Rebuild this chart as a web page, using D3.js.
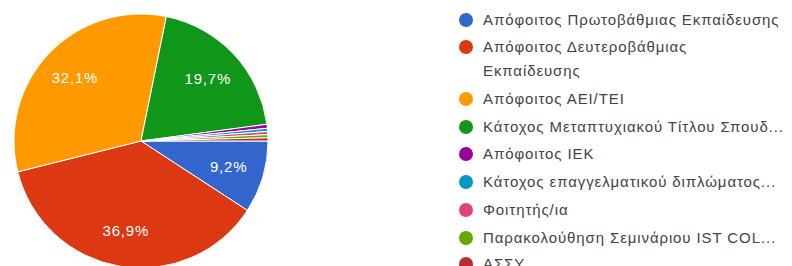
<!DOCTYPE html>
<html>
<head>
<meta charset="utf-8">
<script src="https://cdn.jsdelivr.net/npm/d3@7"></script>
<style>
  body { margin: 0; background: #fff; }
  svg { display: block; font-family: "Liberation Sans", Arial, sans-serif; }
</style>
</head>
<body>
<script>
// data
var categories = [
  "Απόφοιτος Πρωτοβάθμιας Εκπαίδευσης",
  "Απόφοιτος Δευτεροβάθμιας Εκπαίδευσης",
  "Απόφοιτος ΑΕΙ/ΤΕΙ",
  "Κάτοχος Μεταπτυχιακού Τίτλου Σπουδών",
  "Απόφοιτος ΙΕΚ",
  "Κάτοχος επαγγελματικού διπλώματος",
  "Φοιτητής/ια",
  "Παρακολούθηση Σεμινάριου IST COLLEGE",
  "ΑΣΣΥ"
];
var values = [9.2, 36.9, 32.1, 19.7, 0.5, 0.4, 0.4, 0.4, 0.4];
var percentLabels = ["9,2%", "36,9%", "32,1%", "19,7%", "", "", "", "", ""];
// legend lines as shown (long names wrap / get cut)
var legendLines = [
  ["Απόφοιτος Πρωτοβάθμιας Εκπαίδευσης"],
  ["Απόφοιτος Δευτεροβάθμιας", "Εκπαίδευσης"],
  ["Απόφοιτος ΑΕΙ/ΤΕΙ"],
  ["Κάτοχος Μεταπτυχιακού Τίτλου Σπουδ..."],
  ["Απόφοιτος ΙΕΚ"],
  ["Κάτοχος επαγγελματικού διπλώματος..."],
  ["Φοιτητής/ια"],
  ["Παρακολούθηση Σεμινάριου IST COL..."],
  ["ΑΣΣΥ"]
];
var colors = ["#3366cc", "#dc3912", "#ff9900", "#109618", "#990099",
              "#0099c6", "#dd4477", "#66aa00", "#b82e2e"];

var width = 792, height = 266;
var cx = 141, cy = 141, radius = 127;

var svg = d3.select("body").append("svg")
            .attr("width", width)
            .attr("height", height);

var color = d3.scaleOrdinal().domain(categories).range(colors);

var pie = d3.pie()
            .sort(null)
            .value(function(d) { return d.value; })
            .startAngle(Math.PI / 2)
            .endAngle(Math.PI / 2 + 2 * Math.PI);

var slices = pie(categories.map(function(c, i) {
  return { name: c, value: values[i], label: percentLabels[i] };
}));

var arc = d3.arc().innerRadius(0).outerRadius(radius);
var labelArc = d3.arc().innerRadius(radius * 0.72).outerRadius(radius * 0.72);

var g = svg.append("g").attr("transform", "translate(" + cx + "," + cy + ")");

g.selectAll("path")
  .data(slices)
  .enter()
  .append("path")
  .attr("d", arc)
  .attr("fill", function(d) { return color(d.data.name); })
  .attr("stroke", "#fff")
  .attr("stroke-width", 1);

g.selectAll("text")
  .data(slices.filter(function(d) { return d.data.label; }))
  .enter()
  .append("text")
  .attr("transform", function(d) { return "translate(" + labelArc.centroid(d) + ")"; })
  .attr("text-anchor", "middle")
  .attr("dy", "0.35em")
  .attr("fill", "#fff")
  .attr("font-size", 15)
  .attr("letter-spacing", 0.8)
  .text(function(d) { return d.data.label; });

// legend
var rowY = [20, 47, 99, 127, 154, 182, 210, 238, 264];
var legend = svg.append("g");

var items = legend.selectAll("g")
  .data(categories)
  .enter()
  .append("g")
  .attr("transform", function(d, i) { return "translate(466," + rowY[i] + ")"; });

items.append("circle")
  .attr("r", 7)
  .attr("fill", function(d) { return color(d); });

items.each(function(d, i) {
  var t = d3.select(this).append("text")
    .attr("x", 17)
    .attr("fill", "#444")
    .attr("font-size", 15)
    .attr("letter-spacing", 0.9);
  legendLines[i].forEach(function(line, j) {
    t.append("tspan")
      .attr("x", 17)
      .attr("y", j * 24)
      .attr("dy", "0.35em")
      .text(line);
  });
});
</script>
</body>
</html>
